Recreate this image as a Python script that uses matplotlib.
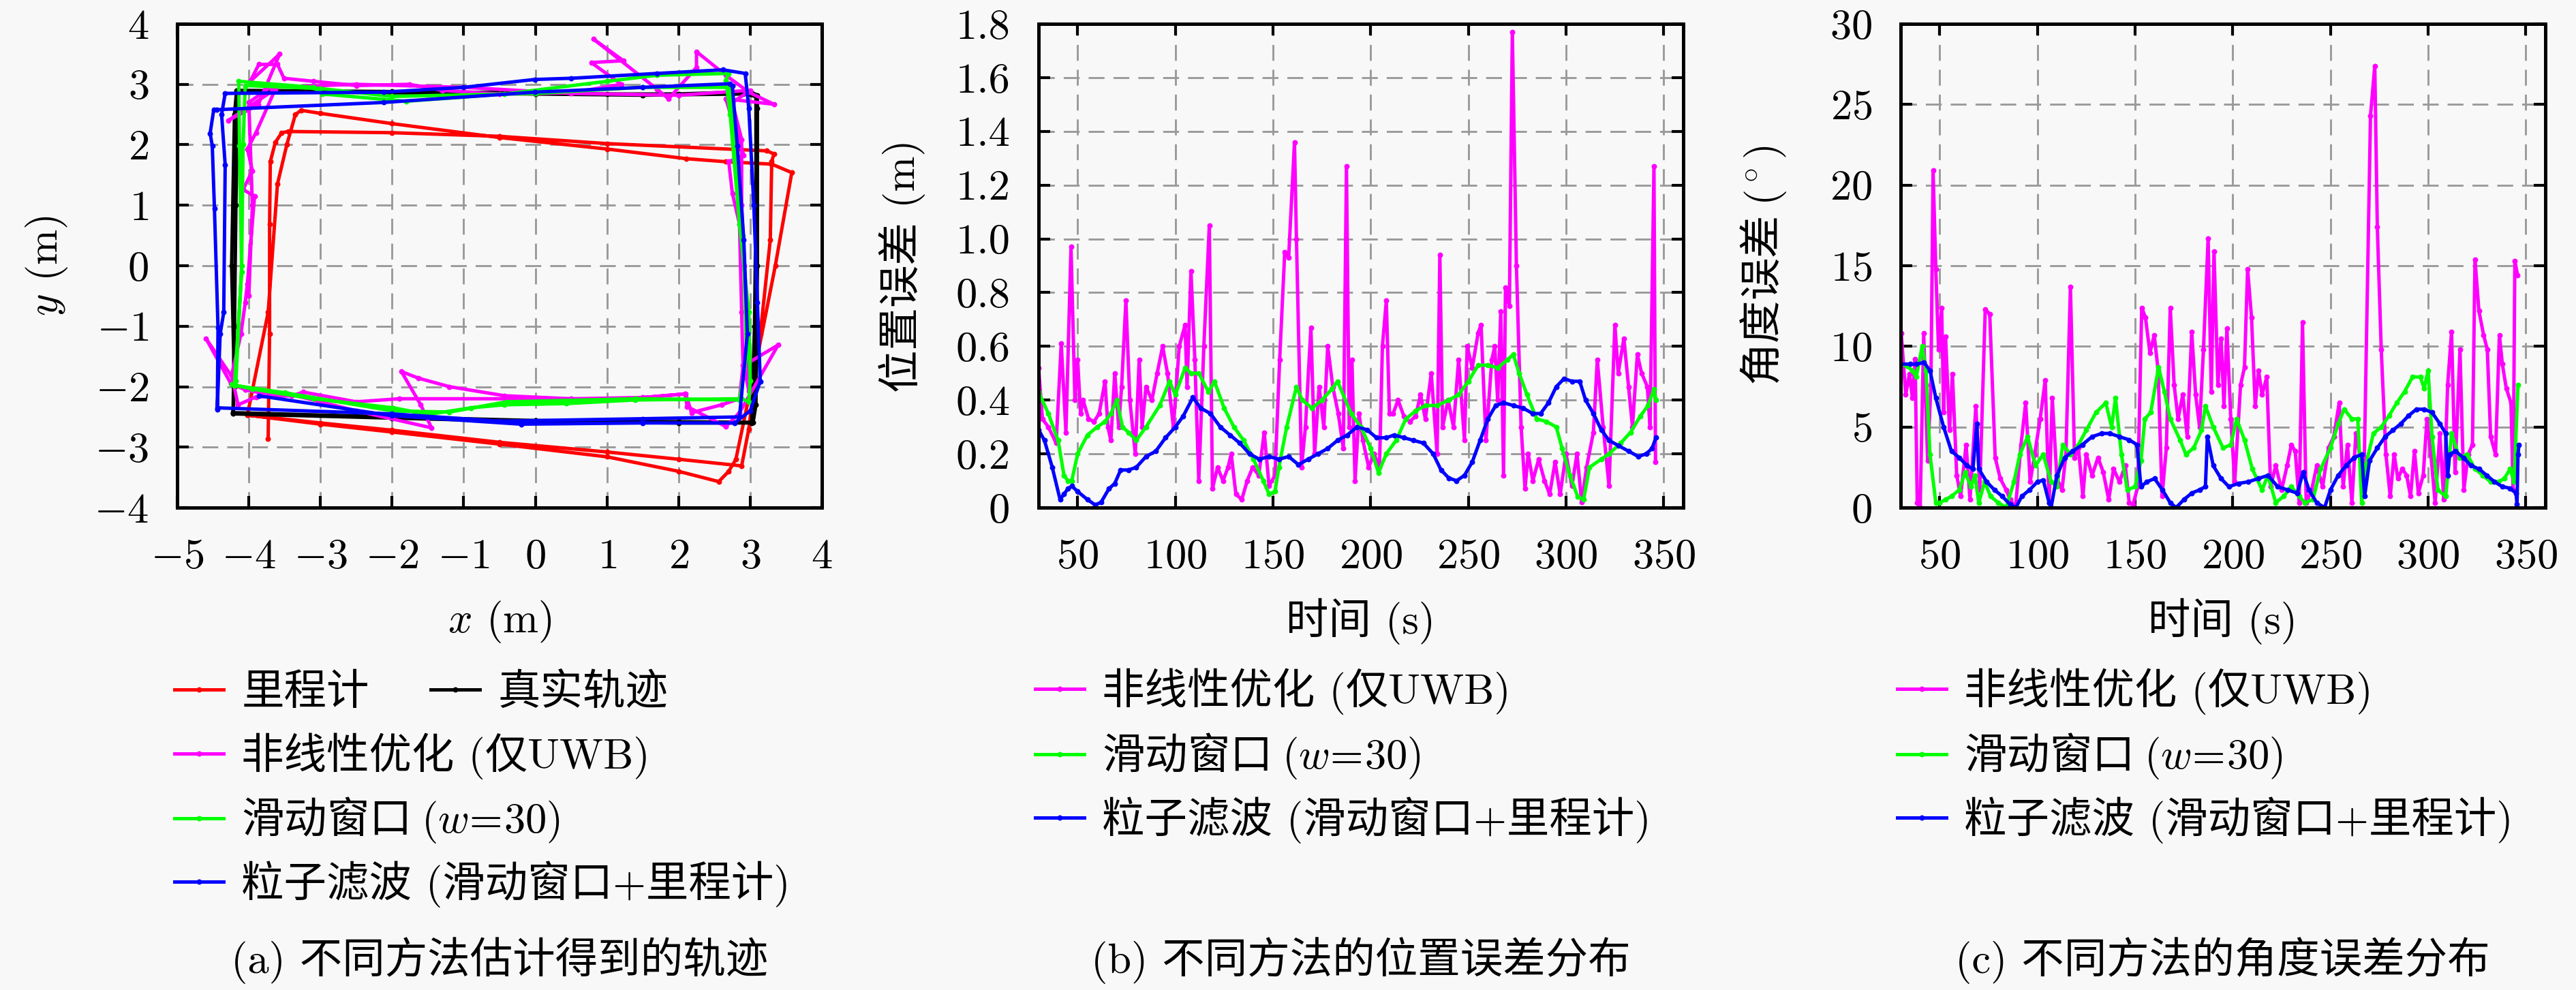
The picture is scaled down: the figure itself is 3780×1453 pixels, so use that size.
import matplotlib
matplotlib.use('Agg')
import matplotlib.pyplot as plt
from matplotlib.font_manager import FontProperties

plt.rcParams['font.family'] = ['cmr10', 'Noto Sans CJK SC', 'DejaVu Sans']
plt.rcParams['mathtext.fontset'] = 'cm'
plt.rcParams['axes.formatter.use_mathtext'] = True

# ---------------- data ----------------
# (a) trajectories (x, y) in metres
traj_odom = [(-4.02, -2.47), (-3.0, -2.62), (-2.0, -2.75), (-0.5, -2.95), (1.0, -3.16), (2.0, -3.4),
             (2.56, -3.57), (2.7, -3.4), (2.8, -3.2), (3.1, -1.5), (3.35, 0.0), (3.58, 1.54), (3.3, 1.68),
             (2.66, 1.72), (2.11, 1.77), (1.0, 1.93), (-0.5, 2.12), (-2.0, 2.35), (-3.0, 2.52), (-3.27, 2.57),
             (-3.35, 2.5), (-3.47, 2.0), (-3.6, 1.35), (-3.73, -0.77), (-4.02, -2.47),
             (-3.0, -2.6), (-2.0, -2.72), (-0.5, -2.92), (1.0, -3.08), (2.0, -3.2), (2.88, -3.31), (2.98, -2.7),
             (3.14, -1.13), (3.28, 0.43), (3.3, 1.72), (3.33, 1.85), (3.23, 1.9), (1.0, 2.02), (-0.5, 2.14),
             (-2.0, 2.2), (-3.45, 2.22), (-3.54, 2.2), (-3.63, 2.04), (-3.7, 1.72), (-3.71, 0.69),
             (-3.71, -1.13), (-3.73, -2.86)]
traj_true = [(-4.22, -2.43), (-2.0, -2.5), (0.0, -2.56), (2.0, -2.58), (3.04, -2.59), (3.08, -2.3),
             (3.1, 0.0), (3.1, 2.6), (3.1, 2.82), (3.0, 2.88), (2.0, 2.84), (1.0, 2.84), (0.0, 2.86),
             (-2.0, 2.88), (-4.17, 2.9), (-4.2, 2.5), (-4.24, 0.0), (-4.2, -2.0), (-4.22, -2.45),
             (-2.0, -2.52), (0.0, -2.58), (2.0, -2.6), (3.02, -2.6), (3.06, -1.0), (3.08, 1.0), (3.08, 2.8),
             (2.9, 2.84), (1.5, 2.82), (0.0, 2.84), (-2.0, 2.86), (-4.15, 2.88), (-4.18, 1.0), (-4.2, -1.0),
             (-4.22, -2.43)]
traj_uwb = [(-4.2, -1.9), (-4.6, -1.2), (-4.25, -1.95), (-4.05, -2.05), (-3.85, -2.1), (-3.45, -2.12),
            (-3.0, -2.25), (-2.5, -2.4), (-1.45, -2.68), (-1.6, -2.3), (-1.87, -1.75), (-1.63, -1.86),
            (-1.2, -2.0), (-0.43, -2.15), (0.5, -2.2), (1.5, -2.18), (2.1, -2.12), (2.18, -2.43), (2.6, -2.3),
            (2.85, -2.2), (2.9, -1.65), (2.88, -0.77), (2.85, 0.69), (2.75, 1.2), (2.7, 1.72), (2.91, 1.83),
            (2.75, 2.4), (2.66, 2.76), (3.33, 2.67), (2.98, 2.87), (2.66, 3.15), (2.25, 3.54), (2.25, 3.28),
            (1.86, 2.76), (1.7, 2.92), (0.81, 3.75), (1.23, 3.39), (0.78, 3.36), (1.2, 3.0), (0.5, 2.86),
            (-0.5, 2.84), (-1.3, 2.9), (-1.76, 3.0), (-2.5, 2.98), (-3.1, 3.05), (-3.51, 3.1), (-3.6, 3.33),
            (-3.86, 3.33), (-3.98, 3.05), (-3.57, 3.5), (-3.87, 2.66), (-4.29, 2.4), (-3.63, 2.92),
            (-3.9, 2.2), (-4.02, 1.93), (-3.95, 1.57), (-4.08, 1.26), (-3.92, 1.15), (-4.02, -0.3),
            (-4.05, -0.61), (-4.11, -1.13), (-4.24, -1.81), (-4.15, -2.3), (-3.9, -2.17), (-3.4, -2.15),
            (-3.24, -2.09), (-2.5, -2.25), (-1.9, -2.2), (-0.4, -2.2), (0.5, -2.22), (1.3, -2.2),
            (2.09, -2.12), (2.12, -2.33), (2.66, -2.66), (2.85, -2.43), (3.39, -1.31), (2.91, -1.65),
            (2.98, -2.07), (2.95, -1.0), (2.92, 0.0), (2.88, 1.0), (2.88, 2.09), (2.75, 2.7), (3.0, 2.9),
            (2.0, 2.82), (0.5, 2.85), (-1.0, 2.95), (-2.5, 3.0), (-3.7, 2.95), (-4.0, 2.7), (-3.95, 1.0),
            (-4.0, -0.5)]
traj_sw = [(-4.24, -1.96), (-3.95, -2.04), (-3.1, -2.2), (-1.98, -2.35), (-1.5, -2.46), (-0.9, -2.35),
           (-0.43, -2.3), (0.43, -2.28), (1.39, -2.22), (2.88, -2.2), (2.98, -2.25), (3.0, -1.9),
           (2.98, -0.77), (2.85, 0.69), (2.72, 2.5), (2.66, 3.07), (2.7, 3.18), (1.7, 3.15), (1.0, 3.05),
           (-0.43, 2.84), (-1.8, 2.72), (-2.97, 2.84), (-3.1, 2.95), (-4.14, 3.05), (-4.13, 1.98),
           (-4.1, -0.1), (-4.2, -1.98), (-3.5, -2.1), (-2.0, -2.4), (-1.2, -2.42), (-0.4, -2.25),
           (1.4, -2.2), (2.85, -2.22), (2.95, -1.5), (2.9, 0.5), (2.78, 2.2), (2.72, 2.95), (1.5, 2.95),
           (0.0, 2.85), (-2.0, 2.8), (-3.0, 2.93), (-4.05, 2.98), (-4.08, 2.0), (-4.1, 0.0), (-4.18, -1.9)]
traj_pf = [(-3.86, -2.15), (-2.0, -2.48), (-0.2, -2.62), (1.5, -2.6), (2.78, -2.6), (3.0, -2.4),
           (3.14, -1.91), (3.1, -0.61), (3.05, 1.0), (2.98, 2.6), (2.93, 3.18), (2.62, 3.24), (1.7, 3.18),
           (0.5, 3.1), (-0.01, 3.08), (-1.0, 2.95), (-2.12, 2.87), (-4.33, 2.85), (-4.38, 2.5),
           (-4.33, 1.67), (-4.35, -0.77), (-4.4, -1.13), (-4.44, -2.35), (-2.0, -2.45), (-0.5, -2.57),
           (1.5, -2.53), (2.85, -2.5), (2.96, -1.13), (2.91, 0.43), (2.82, 1.98), (2.75, 2.97), (2.72, 3.01),
           (1.5, 2.95), (-0.01, 2.87), (-2.12, 2.7), (-4.45, 2.58), (-4.49, 2.58), (-4.54, 2.19),
           (-4.51, 1.98), (-4.48, 0.95), (-4.43, -1.03), (-4.44, -2.38)]

# (b) position error (t [s], error [m])
pos_uwb = [(30, 0.52), (32, 0.33), (35, 0.3), (39, 0.24), (41.6, 0.61), (44, 0.28), (46.6, 0.97), (48.6, 0.4),
           (50, 0.55), (51.5, 0.35), (52.8, 0.4), (55.6, 0.33), (58.4, 0.32), (61, 0.35), (64, 0.47), (65.5, 0.3),
           (67, 0.25), (69, 0.5), (71, 0.3), (72.5, 0.45), (74.7, 0.77), (76.7, 0.4), (79.5, 0.2), (81.5, 0.55),
           (83, 0.3), (85, 0.45), (88, 0.4), (90.7, 0.5), (93.5, 0.6), (96, 0.5), (99, 0.3), (102, 0.6),
           (105, 0.68), (106, 0.45), (108, 0.88), (110, 0.55), (112, 0.1), (114.6, 0.6), (117.4, 1.05),
           (119, 0.07), (121.6, 0.15), (124.4, 0.1), (127, 0.15), (128.6, 0.2), (131, 0.05), (134, 0.03),
           (136.8, 0.1), (139.6, 0.15), (142.7, 0.12), (145.5, 0.28), (148, 0.08), (151, 0.12), (153.4, 0.55),
           (156, 0.95), (158, 0.93), (161, 1.36), (162, 1.0), (164.6, 0.15), (166.6, 0.3), (169.4, 0.67),
           (171.3, 0.2), (173.6, 0.45), (176, 0.3), (178, 0.6), (180.6, 0.45), (183.4, 0.35), (186, 0.22),
           (187.6, 1.27), (189, 0.3), (190.4, 0.55), (192, 0.1), (194, 0.35), (196, 0.25), (199, 0.15),
           (201.7, 0.2), (204.5, 0.15), (206, 0.6), (208, 0.77), (209.6, 0.35), (211.5, 0.35), (214, 0.4),
           (217, 0.34), (220, 0.32), (223, 0.34), (225.5, 0.42), (228, 0.33), (231, 0.5), (234, 0.2),
           (235.4, 0.94), (236.8, 0.3), (239.6, 0.4), (242.4, 0.3), (245, 0.55), (248, 0.25), (249.4, 0.6),
           (252, 0.52), (255, 0.65), (256.5, 0.68), (259, 0.25), (262, 0.55), (263.5, 0.6), (265, 0.4),
           (266.6, 0.73), (268, 0.12), (269, 0.82), (271, 0.75), (272.5, 1.77), (274.6, 0.9), (277, 0.3),
           (279, 0.07), (280.6, 0.2), (283, 0.1), (286, 0.18), (289, 0.1), (291.6, 0.05), (294.4, 0.17),
           (297, 0.05), (300, 0.2), (303, 0.08), (305.6, 0.2), (308, 0.02), (310.5, 0.15), (314, 0.28),
           (316, 0.55), (319, 0.3), (322, 0.08), (325, 0.68), (326.7, 0.5), (329.6, 0.63), (332, 0.45),
           (334, 0.3), (336.5, 0.57), (338.7, 0.5), (341.6, 0.45), (343, 0.3), (345, 1.27), (345.8, 0.17)]
pos_sw = [(30, 0.43), (35, 0.35), (40, 0.25), (43, 0.12), (45, 0.1), (47, 0.1), (50, 0.2), (55, 0.27),
          (60, 0.3), (64, 0.32), (67, 0.35), (70, 0.4), (73, 0.3), (76, 0.28), (80, 0.25), (85, 0.3),
          (92, 0.38), (97, 0.47), (100, 0.42), (105, 0.52), (108, 0.5), (112, 0.5), (117, 0.43), (120, 0.47),
          (125, 0.37), (130, 0.3), (135, 0.25), (140, 0.18), (145, 0.1), (148, 0.05), (151, 0.06),
          (153, 0.15), (157, 0.3), (162, 0.45), (165, 0.4), (170, 0.37), (175, 0.4), (180, 0.44),
          (183, 0.47), (190, 0.35), (195, 0.3), (200, 0.22), (204, 0.13), (208, 0.2), (213, 0.25),
          (218, 0.33), (223, 0.36), (228, 0.38), (234, 0.38), (240, 0.4), (245, 0.42), (250, 0.47),
          (255, 0.53), (260, 0.53), (265, 0.52), (270, 0.55), (273, 0.57), (276, 0.5), (280, 0.42),
          (285, 0.33), (290, 0.32), (295, 0.3), (298, 0.22), (302, 0.12), (306, 0.04), (309, 0.03),
          (312, 0.15), (318, 0.18), (322, 0.2), (328, 0.24), (333, 0.28), (338, 0.34), (342, 0.38),
          (345, 0.44), (346, 0.4)]
pos_pf = [(30, 0.29), (33, 0.25), (37, 0.15), (41, 0.03), (43, 0.05), (45, 0.07), (47, 0.08), (50, 0.06),
          (55, 0.03), (59, 0.01), (62, 0.02), (66, 0.07), (69, 0.09), (72, 0.14), (76, 0.14), (80, 0.15),
          (85, 0.19), (90, 0.21), (95, 0.26), (100, 0.3), (104, 0.34), (109, 0.41), (113, 0.37), (118, 0.35),
          (123, 0.3), (128, 0.27), (133, 0.24), (138, 0.2), (143, 0.18), (148, 0.19), (153, 0.18),
          (158, 0.19), (163, 0.16), (168, 0.18), (173, 0.2), (178, 0.22), (183, 0.25), (188, 0.27),
          (193, 0.3), (198, 0.29), (203, 0.26), (208, 0.26), (212, 0.27), (217, 0.26), (222, 0.25),
          (227, 0.24), (232, 0.2), (236, 0.14), (240, 0.11), (244, 0.1), (248, 0.12), (252, 0.17),
          (256, 0.25), (260, 0.33), (264, 0.38), (268, 0.39), (273, 0.38), (278, 0.37), (283, 0.35),
          (287, 0.35), (291, 0.39), (295, 0.45), (299, 0.48), (303, 0.47), (307, 0.47), (310, 0.4),
          (314, 0.35), (318, 0.29), (322, 0.25), (327, 0.23), (332, 0.21), (337, 0.19), (341, 0.2),
          (344, 0.22), (346, 0.26)]

# (c) angle error (t [s], error [deg])
ang_uwb = [(30.3, 10.8), (32.6, 7.0), (34.5, 8.3), (36, 6.8), (37.4, 9.2), (38.5, 0.3), (40, 0.0), (41.8, 10.8),
           (43.8, 2.9), (45.5, 7.6), (46.6, 20.9), (48, 14.8), (49.4, 9.8), (51, 12.4), (52, 5.9), (53, 10.6),
           (55, 4.8), (56.5, 8.3), (58.7, 2.0), (60.7, 0.7), (63.5, 3.9), (65.5, 0.5), (68.5, 6.3), (70.5, 1.1),
           (73.3, 12.3), (75.6, 12.0), (78.4, 3.1), (81, 1.8), (84, 1.1), (86, 0.5), (88.8, 0.0), (91.6, 3.9),
           (94, 6.5), (96.3, 1.6), (98.6, 3.3), (101.4, 5.5), (104, 7.9), (106, 0.3), (107.6, 6.8), (110, 1.8),
           (112.6, 1.1), (114.6, 3.3), (116.9, 13.7), (119, 3.1), (121, 3.7), (123.3, 0.7), (125, 3.3),
           (128, 2.0), (131, 3.1), (133.7, 2.2), (136.5, 0.5), (139, 2.4), (142, 1.6), (145, 2.6), (147, 0.3),
           (149, 0.2), (151.4, 1.3), (153.4, 12.4), (155.3, 11.8), (157.6, 9.6), (159.8, 10.7), (161.8, 8.5),
           (163.8, 0.7), (166, 3.7), (168, 12.4), (170, 7.6), (172, 5.5), (174.4, 7.0), (176.7, 4.4),
           (179, 10.9), (181, 7.0), (183, 5.0), (185, 9.8), (187.4, 16.7), (189, 7.2), (190.4, 15.9),
           (192.4, 7.6), (194, 10.5), (195.5, 6.3), (197, 11.1), (199, 5.5), (201, 1.6), (204, 7.6), (206, 8.7),
           (207.6, 14.8), (209.6, 11.8), (211.5, 6.3), (213.2, 8.5), (215, 7.0), (217.4, 8.1), (219.4, 1.3),
           (222, 2.6), (225, 1.1), (227.8, 2.6), (230, 3.9), (232, 3.5), (234, 0.3), (235.7, 11.5), (237.6, 0.3),
           (240.4, 1.1), (243, 2.6), (246, 1.3), (249, 3.7), (251.7, 4.4), (254.5, 6.5), (256.5, 1.3),
           (258.7, 3.9), (261, 0.3), (263, 4.6), (265, 3.3), (267, 0.7), (270.5, 24.3), (272.7, 27.4),
           (274, 17.4), (276, 9.8), (278.4, 3.3), (280.6, 0.7), (282.6, 3.3), (284.5, 1.8), (286.8, 2.4),
           (289, 2.0), (291, 0.7), (293, 3.5), (295, 0.9), (297.5, 2.0), (299.4, 5.5), (301.4, 3.3),
           (303.6, 0.3), (306, 4.6), (308, 0.5), (310, 7.6), (312, 10.9), (313.8, 2.2), (316.3, 9.8),
           (318.3, 1.1), (320.5, 3.3), (322.7, 3.9), (324, 15.4), (326, 12.2), (328.4, 10.7), (330.3, 9.8),
           (332, 4.4), (334.5, 3.3), (336.5, 10.7), (338, 8.9), (340, 7.4), (342.4, 6.5), (343.5, 1.1),
           (344.4, 15.3), (345.8, 14.4)]
ang_sw = [(30, 8.9), (33, 8.8), (36, 8.5), (38, 8.1), (41, 10.0), (43, 8.5), (45, 3.3), (48, 0.3), (50, 0.3),
          (53, 0.5), (56, 0.7), (60, 1.1), (63, 2.2), (66, 1.3), (68, 2.0), (70, 0.3), (73, 1.6), (76, 0.7),
          (80, 0.3), (84, 0.0), (88, 1.6), (91, 3.3), (95, 4.4), (99, 2.6), (103, 3.3), (107, 1.6), (110, 1.3),
          (113, 3.9), (117, 3.3), (121, 3.9), (125, 4.8), (130, 5.9), (135, 6.5), (138, 5.0), (140, 6.8),
          (143, 3.3), (146, 1.1), (150, 1.3), (153, 2.9), (155, 5.5), (158, 5.9), (162, 8.7), (165, 7.2),
          (168, 5.5), (173, 4.2), (176, 3.3), (180, 3.7), (184, 4.8), (186, 6.3), (190, 5.0), (195, 3.7),
          (199, 3.9), (202, 5.5), (206, 4.2), (210, 2.4), (215, 1.1), (218, 2.0), (222, 0.3), (226, 0.7),
          (230, 1.3), (234, 0.7), (237, 0.3), (241, 0.5), (245, 2.4), (250, 3.7), (254, 5.2), (257, 6.1),
          (261, 5.5), (264, 5.5), (266, 0.3), (268, 2.6), (272, 4.6), (276, 5.0), (280, 5.7), (284, 6.5),
          (288, 7.2), (292, 8.1), (296, 8.1), (298, 7.4), (300, 8.5), (302, 4.4), (305, 1.1), (309, 0.7),
          (312, 4.6), (316, 3.1), (320, 3.3), (324, 2.4), (328, 2.0), (332, 1.6), (336, 1.6), (339, 1.8),
          (342, 2.4), (344, 1.6), (346, 7.6)]
ang_pf = [(30, 8.9), (35, 8.9), (38, 8.9), (42, 9.0), (45, 8.5), (48, 6.8), (52, 5.0), (56, 3.5), (60, 3.1),
          (64, 2.6), (67, 2.4), (69, 5.2), (70, 2.4), (74, 1.6), (78, 1.1), (82, 0.7), (86, 0.2), (89, 0.0),
          (92, 0.7), (96, 1.1), (100, 1.6), (103, 1.7), (106, 0.3), (107, 0.0), (110, 2.0), (114, 3.1),
          (118, 3.5), (123, 3.9), (128, 4.4), (133, 4.6), (137, 4.6), (142, 4.4), (147, 4.2), (151, 3.9),
          (153, 1.3), (156, 1.6), (160, 1.8), (164, 1.1), (168, 0.3), (171, 0.0), (175, 0.5), (179, 0.9),
          (183, 1.1), (186, 1.3), (187, 4.4), (190, 2.6), (194, 1.8), (198, 1.3), (203, 1.5), (208, 1.6),
          (213, 1.8), (218, 2.0), (223, 1.3), (228, 1.1), (233, 0.9), (236, 2.2), (239, 1.1), (243, 0.3),
          (247, 0.0), (250, 1.1), (254, 2.0), (258, 2.6), (262, 3.1), (266, 3.3), (267.5, 0.7), (270, 2.9),
          (274, 3.7), (278, 4.4), (282, 4.8), (286, 5.2), (290, 5.7), (294, 6.1), (298, 6.1), (302, 5.9),
          (306, 5.2), (309, 4.6), (310, 2.0), (311, 3.3), (314, 3.5), (318, 3.1), (322, 2.6), (326, 2.4),
          (330, 2.0), (334, 1.6), (338, 1.3), (342, 1.2), (345, 0.9), (345.5, 0.2), (346, 3.3), (346.5, 3.9)]

LBL_ODOM = '里程计'
LBL_TRUE = '真实轨迹'
LBL_UWB = '非线性优化 (仅UWB)'
LBL_SW = '滑动窗口 $(w\\!=\\!30)$'
LBL_PF = '粒子滤波 (滑动窗口+里程计)'
captions = ['(a) 不同方法估计得到的轨迹', '(b) 不同方法的位置误差分布', '(c) 不同方法的角度误差分布']
pos_yticks = [0, 0.2, 0.4, 0.6, 0.8, 1.0, 1.2, 1.4, 1.6, 1.8]
pos_yticklabels = ['0', '0.2', '0.4', '0.6', '0.8', '1.0', '1.2', '1.4', '1.6', '1.8']
time_ticks = [50, 100, 150, 200, 250, 300, 350]

# ---------------- styles ----------------
C_RED, C_BLK, C_MAG, C_GRN, C_BLU = '#ff0000', '#000000', '#ff00ff', '#00ff00', '#0000ff'
BG = '#f8f8f8'
FS = 15
W, H = 3780, 1453
CJK = FontProperties(family='Noto Sans CJK SC', size=FS)

fig = plt.figure(figsize=(W / 300, H / 300), dpi=300, facecolor=BG)


def add_ax(left_px):
    return fig.add_axes([left_px / W, 1 - 745 / H, 946 / W, 710 / H])


def style(ax):
    ax.set_facecolor(BG)
    for s in ax.spines.values():
        s.set_linewidth(1.2)
    ax.tick_params(direction='in', top=True, right=True, length=4, width=1.0, labelsize=FS)
    ax.tick_params(axis='x', pad=11)
    ax.tick_params(axis='y', pad=10)
    ax.grid(True, color='#9a9a9a', linestyle=(0, (8, 4.5)), linewidth=0.7)
    ax.set_axisbelow(True)


def xy(pairs):
    return [p[0] for p in pairs], [p[1] for p in pairs]


lkw = dict(lw=1.2, marker='.', markersize=1.8)

# ---- panel (a)
axa = add_ax(260)
style(axa)
h = []
for data, col in [(traj_odom, C_RED), (traj_true, C_BLK), (traj_uwb, C_MAG), (traj_sw, C_GRN), (traj_pf, C_BLU)]:
    x, y = xy(data)
    ln, = axa.plot(x, y, color=col, **lkw)
    h.append(ln)
axa.set_xlim(-5, 4)
axa.set_ylim(-4, 4)
axa.set_xticks(range(-5, 5))
axa.set_yticks(range(-4, 5))
axa.set_xlabel('$x$ (m)', fontsize=FS)
axa.set_ylabel('$y$ (m)', fontsize=FS)

# ---- panel (b)
axb = add_ax(1524)
style(axb)
hb = []
for data, col in [(pos_uwb, C_MAG), (pos_sw, C_GRN), (pos_pf, C_BLU)]:
    x, y = xy(data)
    ln, = axb.plot(x, y, color=col, **lkw)
    hb.append(ln)
axb.set_xlim(30, 360)
axb.set_ylim(0, 1.8)
axb.set_xticks(time_ticks)
axb.set_yticks(pos_yticks)
axb.set_yticklabels(pos_yticklabels)
axb.set_xlabel('时间 (s)', fontsize=FS)
axb.set_ylabel('位置误差 (m)', fontsize=FS)

# ---- panel (c)
axc = add_ax(2789)
style(axc)
hc = []
for data, col in [(ang_uwb, C_MAG), (ang_sw, C_GRN), (ang_pf, C_BLU)]:
    x, y = xy(data)
    ln, = axc.plot(x, y, color=col, **lkw)
    hc.append(ln)
axc.set_xlim(30, 360)
axc.set_ylim(0, 30)
axc.set_xticks(time_ticks)
axc.set_yticks(range(0, 31, 5))
axc.set_xlabel('时间 (s)', fontsize=FS)
axc.set_ylabel('角度误差 $(^\\circ)$', fontproperties=CJK)

# label placement
for ax, yoff in [(axa, -192), (axb, -200), (axc, -201)]:
    ax.xaxis.set_label_coords(0.5, -167 / 710)
    ax.xaxis.label.set_va('center')
    ax.yaxis.set_label_coords(yoff / 946, 0.5)
    ax.yaxis.label.set_va('center')

# legends, one per row
legkw = dict(loc='center left', frameon=False, handlelength=1.15, handletextpad=0.42,
             borderpad=0, borderaxespad=0, columnspacing=1.45, numpoints=1)


def row_legend(handles, labels, left_px, y_px):
    prop = CJK if any('$' in s for s in labels) else {'size': FS}
    fig.legend(handles, labels, bbox_to_anchor=(left_px / W, 1 - y_px / H), ncol=len(handles),
               prop=prop, **legkw)


row_legend([h[0], h[1]], [LBL_ODOM, LBL_TRUE], 256, 1017)
row_legend([h[2]], [LBL_UWB], 256, 1110)
row_legend([h[3]], [LBL_SW], 256, 1204)
row_legend([h[4]], [LBL_PF], 256, 1298)
for left, hs in [(1519, hb), (2784, hc)]:
    row_legend([hs[0]], [LBL_UWB], left, 1015)
    row_legend([hs[1]], [LBL_SW], left, 1110)
    row_legend([hs[2]], [LBL_PF], left, 1204)

# captions
for cx, cap in zip([733, 1997, 3261], captions):
    fig.text(cx / W, 1 - 1410 / H, cap, ha='center', va='center', fontsize=FS)

fig.savefig('out.png', dpi=300, facecolor=BG)
